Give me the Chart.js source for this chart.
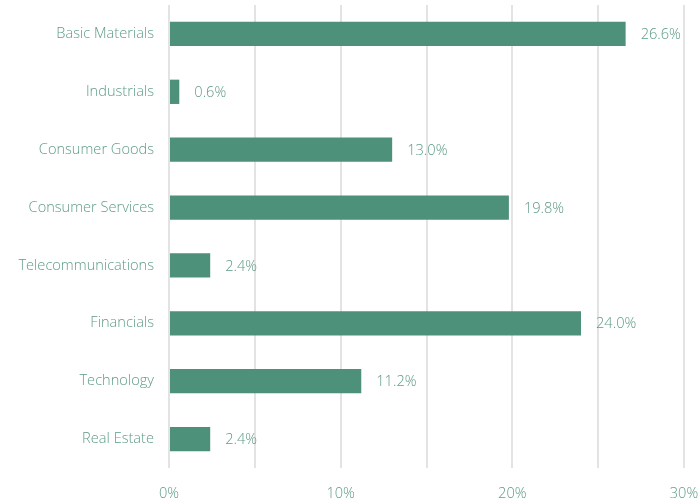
<!DOCTYPE html>
<html>
<head>
<meta charset="utf-8">
<script src="https://cdn.jsdelivr.net/npm/chart.js@4"></script>
<style>
  html, body { margin: 0; padding: 0; background: #fff; }
  #wrap { width: 698px; height: 503px; }
</style>
</head>
<body>
<div id="wrap"><canvas id="myChart"></canvas></div>
<script>
var sectors = ['Basic Materials', 'Industrials', 'Consumer Goods', 'Consumer Services',
               'Telecommunications', 'Financials', 'Technology', 'Real Estate'];
var weights = [26.6, 0.6, 13.0, 19.8, 2.4, 24.0, 11.2, 2.4];

var green = '#4e917a';
var textGreen = '#5e9c84';
var fontFamily = "'Open Sans'";
var fontSize = 14.6;

// draws "26.6%" etc. to the right of each bar
var valueLabels = {
  id: 'valueLabels',
  afterDatasetsDraw: function(chart) {
    var ctx = chart.ctx;
    var meta = chart.getDatasetMeta(0);
    ctx.save();
    ctx.font = '300 ' + fontSize + 'px ' + fontFamily;
    ctx.fillStyle = textGreen;
    ctx.textAlign = 'left';
    ctx.textBaseline = 'middle';
    meta.data.forEach(function(bar, i) {
      ctx.fillText(weights[i].toFixed(1) + '%', bar.x + 15, bar.y + 1);
    });
    ctx.restore();
  }
};

new Chart(document.getElementById('myChart'), {
  type: 'bar',
  data: {
    labels: sectors,
    datasets: [{
      data: weights,
      backgroundColor: green,
      barPercentage: 0.84,
      categoryPercentage: 0.5
    }]
  },
  options: {
    indexAxis: 'y',
    responsive: true,
    maintainAspectRatio: false,
    animation: false,
    layout: { padding: { top: 5, right: 0, left: 0, bottom: 0 } },
    plugins: {
      legend: { display: false },
      tooltip: { enabled: false }
    },
    scales: {
      x: {
        min: 0,
        max: 30,
        afterFit: function(scale) {
          scale.height = 35;
          scale.paddingLeft = 0;
          scale.paddingRight = 14;
        },
        ticks: {
          stepSize: 5,
          color: textGreen,
          font: { family: fontFamily, size: fontSize, weight: 300 },
          padding: 17,
          maxRotation: 0,
          callback: function(v) { return v % 10 === 0 ? v + '%' : ''; }
        },
        grid: { color: '#e3e3e3', lineWidth: 2, drawTicks: false },
        border: { display: false }
      },
      y: {
        afterFit: function(scale) {
          scale.width = 169;
          scale.paddingTop = 0;
          scale.paddingBottom = 0;
        },
        ticks: {
          color: textGreen,
          font: { family: fontFamily, size: fontSize, weight: 300 },
          padding: 7
        },
        grid: { display: false },
        border: { display: false }
      }
    }
  },
  plugins: [valueLabels]
});
</script>
</body>
</html>
